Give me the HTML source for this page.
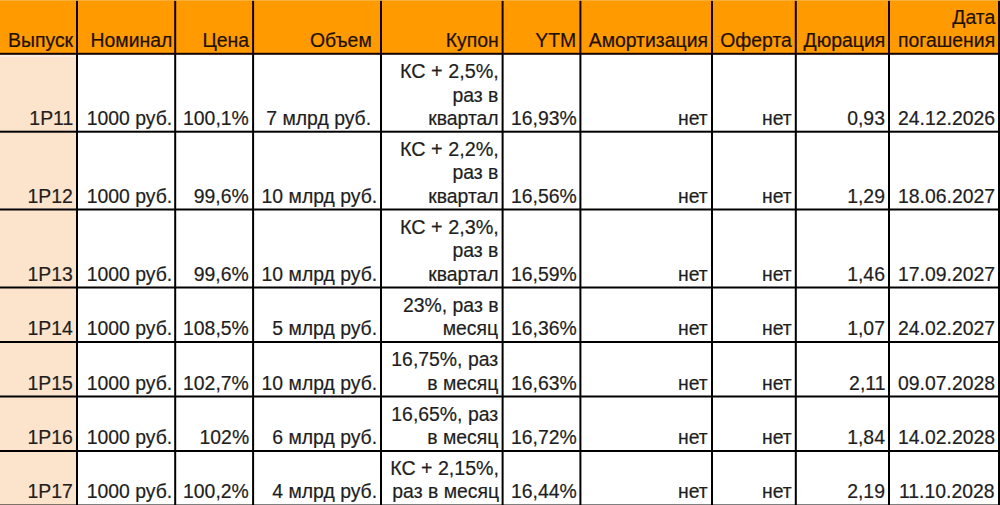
<!DOCTYPE html>
<html><head><meta charset="utf-8"><style>
html,body{margin:0;padding:0;}
body{width:1000px;height:505px;overflow:hidden;position:relative;background:#fff;}
.bg{position:absolute;}
.t{position:absolute;font-family:"Liberation Sans",Arial,sans-serif;font-size:20px;line-height:23px;white-space:pre;transform:scale(0.97,1.025);transform-origin:100% 18.43px;-webkit-text-stroke:0.2px currentColor;}
.h{color:#201000;}
.d{color:#1e1e1e;}
svg{position:absolute;left:0;top:0;}
</style></head><body>
<div class="bg" style="left:0;top:0;width:1000px;height:53.8px;background:#ff9a00;"></div>
<div class="bg" style="left:0;top:53.8px;width:77.0px;height:451.2px;background:#fce4cc;"></div>
<div class="bg" style="left:0;top:55px;width:76px;height:2px;background:#fdeee2;"></div>
<svg width="1000" height="505" viewBox="0 0 1000 505"><rect x="76.0" y="0" width="2.0" height="53.8" fill="#140400"/><rect x="76.0" y="53.8" width="2.0" height="451.2" fill="#000"/><rect x="174.2" y="0" width="2.0" height="53.8" fill="#140400"/><rect x="174.2" y="53.8" width="2.0" height="451.2" fill="#000"/><rect x="252.1" y="0" width="2.0" height="53.8" fill="#140400"/><rect x="252.1" y="53.8" width="2.0" height="451.2" fill="#000"/><rect x="380.0" y="0" width="2.0" height="53.8" fill="#140400"/><rect x="380.0" y="53.8" width="2.0" height="451.2" fill="#000"/><rect x="501.6" y="0" width="2.0" height="53.8" fill="#140400"/><rect x="501.6" y="53.8" width="2.0" height="451.2" fill="#000"/><rect x="579.4" y="0" width="2.0" height="53.8" fill="#140400"/><rect x="579.4" y="53.8" width="2.0" height="451.2" fill="#000"/><rect x="711.0" y="0" width="2.0" height="53.8" fill="#140400"/><rect x="711.0" y="53.8" width="2.0" height="451.2" fill="#000"/><rect x="794.8" y="0" width="2.0" height="53.8" fill="#140400"/><rect x="794.8" y="53.8" width="2.0" height="451.2" fill="#000"/><rect x="888.0" y="0" width="2.0" height="53.8" fill="#140400"/><rect x="888.0" y="53.8" width="2.0" height="451.2" fill="#000"/><rect x="998.0" y="0" width="2.0" height="53.8" fill="#140400"/><rect x="998.0" y="53.8" width="2.0" height="451.2" fill="#000"/><rect x="0" y="52.8" width="1000" height="2.0" fill="#140400"/><rect x="0" y="130.7" width="1000" height="2.0" fill="#000"/><rect x="0" y="208.5" width="1000" height="2.0" fill="#000"/><rect x="0" y="286.5" width="1000" height="2.0" fill="#000"/><rect x="0" y="341.0" width="1000" height="2.0" fill="#000"/><rect x="0" y="395.5" width="1000" height="2.0" fill="#000"/><rect x="0" y="450.0" width="1000" height="2.0" fill="#000"/><rect x="0" y="504" width="1000" height="1" fill="#000" opacity="0.5"/></svg>
<div class="bg" style="left:0;top:0;width:1000px;height:1px;background:#f2b443;opacity:0.85;"></div>
<div class="t h" style="top:28.97px;right:927.00px">Выпуск</div>
<div class="t h" style="top:28.97px;right:827.80px">Номинал</div>
<div class="t h" style="top:28.97px;right:750.90px">Цена</div>
<div class="t h" style="top:28.97px;right:628.00px">Объем</div>
<div class="t h" style="top:28.97px;right:501.40px">Купон</div>
<div class="t h" style="top:28.97px;right:423.60px">YTM</div>
<div class="t h" style="top:28.97px;right:292.00px">Амортизация</div>
<div class="t h" style="top:28.97px;right:208.20px">Оферта</div>
<div class="t h" style="top:28.97px;right:115.00px">Дюрация</div>
<div class="t h" style="top:5.67px;right:5.00px">Дата</div>
<div class="t h" style="top:28.97px;right:5.00px">погашения</div>
<div class="t d" style="top:106.97px;right:927.00px">1P11</div>
<div class="t d" style="top:106.97px;right:827.80px">1000 руб.</div>
<div class="t d" style="top:106.97px;right:750.90px">100,1%</div>
<div class="t d" style="top:106.97px;right:629.00px">7 млрд руб.</div>
<div class="t d" style="top:60.37px;right:501.40px;transform:scale(0.99,1.025)">КС + 2,5%,</div>
<div class="t d" style="top:83.67px;right:501.40px">раз в</div>
<div class="t d" style="top:106.97px;right:501.40px">квартал</div>
<div class="t d" style="top:106.97px;right:423.60px">16,93%</div>
<div class="t d" style="top:106.97px;right:292.00px">нет</div>
<div class="t d" style="top:106.97px;right:208.20px">нет</div>
<div class="t d" style="top:106.97px;right:115.00px">0,93</div>
<div class="t d" style="top:106.97px;right:5.00px">24.12.2026</div>
<div class="t d" style="top:184.77px;right:927.00px">1P12</div>
<div class="t d" style="top:184.77px;right:827.80px">1000 руб.</div>
<div class="t d" style="top:184.77px;right:750.90px">99,6%</div>
<div class="t d" style="top:184.77px;right:623.00px">10 млрд руб.</div>
<div class="t d" style="top:138.17px;right:501.40px;transform:scale(0.99,1.025)">КС + 2,2%,</div>
<div class="t d" style="top:161.47px;right:501.40px">раз в</div>
<div class="t d" style="top:184.77px;right:501.40px">квартал</div>
<div class="t d" style="top:184.77px;right:423.60px">16,56%</div>
<div class="t d" style="top:184.77px;right:292.00px">нет</div>
<div class="t d" style="top:184.77px;right:208.20px">нет</div>
<div class="t d" style="top:184.77px;right:115.00px">1,29</div>
<div class="t d" style="top:184.77px;right:5.00px">18.06.2027</div>
<div class="t d" style="top:262.77px;right:927.00px">1P13</div>
<div class="t d" style="top:262.77px;right:827.80px">1000 руб.</div>
<div class="t d" style="top:262.77px;right:750.90px">99,6%</div>
<div class="t d" style="top:262.77px;right:623.00px">10 млрд руб.</div>
<div class="t d" style="top:216.17px;right:501.40px;transform:scale(0.99,1.025)">КС + 2,3%,</div>
<div class="t d" style="top:239.47px;right:501.40px">раз в</div>
<div class="t d" style="top:262.77px;right:501.40px">квартал</div>
<div class="t d" style="top:262.77px;right:423.60px">16,59%</div>
<div class="t d" style="top:262.77px;right:292.00px">нет</div>
<div class="t d" style="top:262.77px;right:208.20px">нет</div>
<div class="t d" style="top:262.77px;right:115.00px">1,46</div>
<div class="t d" style="top:262.77px;right:5.00px">17.09.2027</div>
<div class="t d" style="top:317.27px;right:927.00px">1P14</div>
<div class="t d" style="top:317.27px;right:827.80px">1000 руб.</div>
<div class="t d" style="top:317.27px;right:750.90px">108,5%</div>
<div class="t d" style="top:317.27px;right:623.00px">5 млрд руб.</div>
<div class="t d" style="top:293.97px;right:501.40px">23%, раз в</div>
<div class="t d" style="top:317.27px;right:501.40px">месяц</div>
<div class="t d" style="top:317.27px;right:423.60px">16,36%</div>
<div class="t d" style="top:317.27px;right:292.00px">нет</div>
<div class="t d" style="top:317.27px;right:208.20px">нет</div>
<div class="t d" style="top:317.27px;right:115.00px">1,07</div>
<div class="t d" style="top:317.27px;right:5.00px">24.02.2027</div>
<div class="t d" style="top:371.77px;right:927.00px">1P15</div>
<div class="t d" style="top:371.77px;right:827.80px">1000 руб.</div>
<div class="t d" style="top:371.77px;right:750.90px">102,7%</div>
<div class="t d" style="top:371.77px;right:623.00px">10 млрд руб.</div>
<div class="t d" style="top:348.47px;right:501.40px">16,75%, раз</div>
<div class="t d" style="top:371.77px;right:501.40px">в месяц</div>
<div class="t d" style="top:371.77px;right:423.60px">16,63%</div>
<div class="t d" style="top:371.77px;right:292.00px">нет</div>
<div class="t d" style="top:371.77px;right:208.20px">нет</div>
<div class="t d" style="top:371.77px;right:115.00px">2,11</div>
<div class="t d" style="top:371.77px;right:5.00px">09.07.2028</div>
<div class="t d" style="top:426.27px;right:927.00px">1P16</div>
<div class="t d" style="top:426.27px;right:827.80px">1000 руб.</div>
<div class="t d" style="top:426.27px;right:750.90px">102%</div>
<div class="t d" style="top:426.27px;right:623.00px">6 млрд руб.</div>
<div class="t d" style="top:402.97px;right:501.40px">16,65%, раз</div>
<div class="t d" style="top:426.27px;right:501.40px">в месяц</div>
<div class="t d" style="top:426.27px;right:423.60px">16,72%</div>
<div class="t d" style="top:426.27px;right:292.00px">нет</div>
<div class="t d" style="top:426.27px;right:208.20px">нет</div>
<div class="t d" style="top:426.27px;right:115.00px">1,84</div>
<div class="t d" style="top:426.27px;right:5.00px">14.02.2028</div>
<div class="t d" style="top:480.27px;right:927.00px">1P17</div>
<div class="t d" style="top:480.27px;right:827.80px">1000 руб.</div>
<div class="t d" style="top:480.27px;right:750.90px">100,2%</div>
<div class="t d" style="top:480.27px;right:623.00px">4 млрд руб.</div>
<div class="t d" style="top:456.97px;right:501.40px;transform:scale(0.98,1.025)">КС + 2,15%,</div>
<div class="t d" style="top:480.27px;right:501.40px">раз в месяц</div>
<div class="t d" style="top:480.27px;right:423.60px">16,44%</div>
<div class="t d" style="top:480.27px;right:292.00px">нет</div>
<div class="t d" style="top:480.27px;right:208.20px">нет</div>
<div class="t d" style="top:480.27px;right:115.00px">2,19</div>
<div class="t d" style="top:480.27px;right:5.00px">11.10.2028</div>
</body></html>
